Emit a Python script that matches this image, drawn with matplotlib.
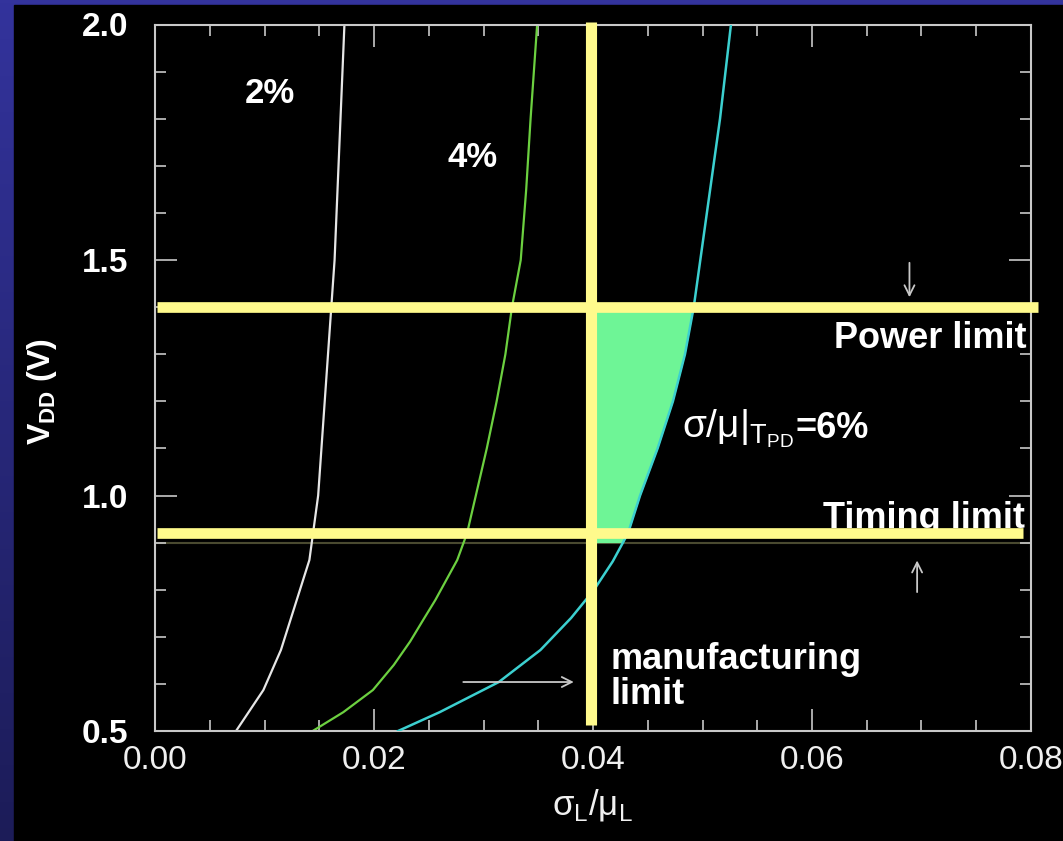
import numpy as np
import matplotlib
matplotlib.use('Agg')
import matplotlib.pyplot as plt
from matplotlib.patches import Rectangle
from matplotlib.ticker import MultipleLocator, FormatStrFormatter

plt.rcParams['font.family'] = ['Liberation Sans', 'DejaVu Sans']
plt.rcParams['mathtext.fontset'] = 'custom'
plt.rcParams['mathtext.rm'] = 'Liberation Sans'

# constant sigma/mu(T_PD) contours: V_DD vs sigma_L/mu_L
v_2pct = [0.5, 0.587, 0.672, 0.863, 1.0, 1.5, 2.0]
x_2pct = [0.0074, 0.0099, 0.0115, 0.0141, 0.0149, 0.0164, 0.0173]

v_4pct = [0.5, 0.54, 0.587, 0.64, 0.69, 0.74, 0.778, 0.863, 0.92, 1.0, 1.1, 1.2, 1.3, 1.4,
          1.5, 1.65, 1.8, 2.0]
x_4pct = [0.0144, 0.0172, 0.0199, 0.0218, 0.0233, 0.0246, 0.0256, 0.0276, 0.0285, 0.0293,
          0.0303, 0.0312, 0.0320, 0.0326, 0.0334, 0.0339, 0.0343, 0.0349]

v_6pct = [0.5, 0.54, 0.604, 0.672, 0.74, 0.8, 0.86, 0.92, 1.0, 1.1, 1.2, 1.3, 1.4, 1.5,
          1.6, 1.7, 1.8, 1.9, 2.0]
x_6pct = [0.0222, 0.026, 0.0314, 0.0352, 0.0380, 0.0401, 0.0418, 0.0432, 0.0443, 0.0459,
          0.0473, 0.0484, 0.0492, 0.0498, 0.0504, 0.051, 0.0516, 0.0521, 0.0526]

power_limit = 1.4
timing_limit = 0.92
timing_limit_old = 0.9
manuf_limit = 0.0398

yellow = '#fffa8c'

fig = plt.figure(figsize=(10.63, 8.41), dpi=100)

# slide background: blue gradient with black panel
bg = fig.add_axes([0, 0, 1, 1], zorder=-10)
grad = np.linspace(0, 1, 256).reshape(-1, 1)
top = np.array([0x33, 0x33, 0x9c]) / 255
bot = np.array([0x1c, 0x1c, 0x58]) / 255
img = top[None, None, :] * (1 - grad[:, :, None]) + bot[None, None, :] * grad[:, :, None]
bg.imshow(img, aspect='auto', extent=[0, 1, 0, 1])
bg.add_patch(Rectangle((14 / 1063, 0), 1, 836 / 841, color='black'))
bg.set_xlim(0, 1)
bg.set_ylim(0, 1)
bg.axis('off')

ax = fig.add_axes([155 / 1063, 1 - 731 / 841, (1031 - 155) / 1063, (731 - 24.5) / 841])
ax.set_facecolor('black')

ax.plot(x_2pct, v_2pct, color='#e6e6e6', lw=1.6)
ax.plot(x_4pct, v_4pct, color='#6cd040', lw=1.6)
ax.plot(x_6pct, v_6pct, color='#3cd0d0', lw=1.8, zorder=3)

# feasible region between manufacturing limit and 6% contour
vv = np.linspace(timing_limit_old, power_limit, 100)
xx = np.interp(vv, v_6pct, x_6pct)
ax.fill_betweenx(vv, manuf_limit + 0.0004, xx, color='#6ef596', lw=0, zorder=2)

ax.axhline(timing_limit_old, color='#4a4a30', lw=1.5, zorder=1)

ax.plot([0.0002, 0.0806], [power_limit, power_limit], color=yellow, lw=7.7,
        solid_capstyle='butt', clip_on=False, zorder=5)
ax.plot([0.0002, 0.0793], [timing_limit, timing_limit], color=yellow, lw=7.7,
        solid_capstyle='butt', clip_on=False, zorder=5)
ax.plot([manuf_limit, manuf_limit], [0.513, 2.006], color=yellow, lw=8,
        solid_capstyle='butt', clip_on=False, zorder=5)

ax.set_xlim(0, 0.08)
ax.set_ylim(0.5, 2.0)
ax.xaxis.set_major_locator(MultipleLocator(0.02))
ax.xaxis.set_minor_locator(MultipleLocator(0.005))
ax.yaxis.set_major_locator(MultipleLocator(0.5))
ax.yaxis.set_minor_locator(MultipleLocator(0.1))
ax.xaxis.set_major_formatter(FormatStrFormatter('%.2f'))
ax.yaxis.set_major_formatter(FormatStrFormatter('%.1f'))

for s in ax.spines.values():
    s.set_color('#c8c8c8')
    s.set_linewidth(1.5)
ax.tick_params(which='both', direction='in', top=True, right=True, color='#c8c8c8', width=1.2)
ax.tick_params(which='major', length=16)
ax.tick_params(which='minor', length=8)
ax.tick_params(axis='x', which='major', labelsize=24, labelcolor='#f0f0f0', pad=10)
ax.tick_params(axis='y', which='major', labelsize=24, labelcolor='white', pad=19)
for t in ax.get_yticklabels():
    t.set_fontweight('bold')

ax.set_xlabel(r'σ$_\mathregular{L}$/μ$_\mathregular{L}$', fontsize=25, color='#f0f0f0', labelpad=8)
ax.set_ylabel(r'V$_\mathregular{DD}$ (V)', fontsize=23, color='white', fontweight='bold')
ax.yaxis.set_label_coords(-0.11, 0.48)

ax.text(0.0105, 1.854, '2%', color='white', fontsize=25, fontweight='bold', ha='center', va='center')
ax.text(0.029, 1.718, '4%', color='white', fontsize=25, fontweight='bold', ha='center', va='center')
ax.text(0.0796, 1.334, 'Power limit', color='white', fontsize=26, fontweight='bold',
        ha='right', va='center', zorder=6)
ax.text(0.0610, 0.952, 'Timing limit', color='white', fontsize=26, fontweight='bold',
        ha='left', va='center', zorder=4, clip_on=False)
ax.text(0.0481, 1.143, r'σ/μ|$_{\mathregular{T}_{\mathregular{PD}}}$', color='white', fontsize=28,
        ha='left', va='center', zorder=6)
ax.text(0.0585, 1.143, '=6%', color='white', fontsize=26, fontweight='bold',
        ha='left', va='center', zorder=6)
ax.text(0.0416, 0.651, 'manufacturing', color='white', fontsize=26, fontweight='bold',
        ha='left', va='center', zorder=6)
ax.text(0.0416, 0.578, 'limit', color='white', fontsize=26, fontweight='bold',
        ha='left', va='center', zorder=6)

arrow = dict(arrowstyle='->', color='#c8c8c8', lw=1.3, mutation_scale=18)
ax.annotate('', xy=(0.0689, 1.415), xytext=(0.0689, 1.50), arrowprops=arrow)
ax.annotate('', xy=(0.0696, 0.868), xytext=(0.0696, 0.789), arrowprops=arrow)
ax.annotate('', xy=(0.0385, 0.604), xytext=(0.0279, 0.604), arrowprops=arrow)

fig.savefig('out.png', dpi=100, facecolor=fig.get_facecolor())
